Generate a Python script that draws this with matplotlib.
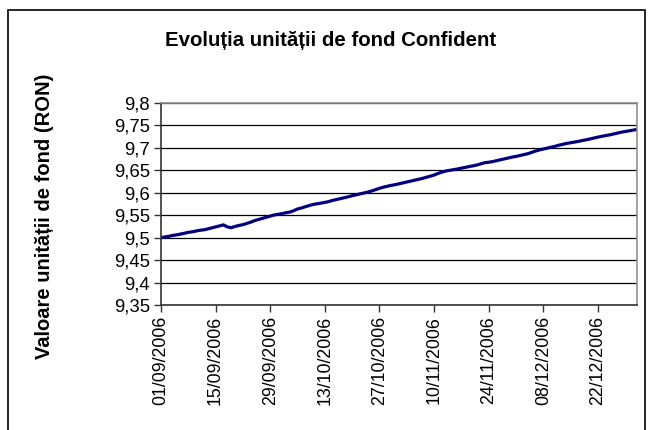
import matplotlib
matplotlib.use("Agg")
import matplotlib.pyplot as plt
from matplotlib.patches import Rectangle
import pandas as pd

plt.rcParams['font.family'] = ['Liberation Sans', 'DejaVu Sans']

title = "Evoluția unității de fond Confident"
ylabel = "Valoare unității de fond (RON)"

start_date = "2006-09-01"
values = [
    9.5000, 9.5016, 9.5030, 9.5050, 9.5062, 9.5080, 9.5098, 9.5118, 9.5130, 9.5148,
    9.5165, 9.5175, 9.5195, 9.5218, 9.5240, 9.5262, 9.5285, 9.5240, 9.5222, 9.5250,
    9.5272, 9.5290, 9.5318, 9.5345, 9.5380, 9.5405, 9.5430, 9.5455, 9.5480, 9.5505,
    9.5520, 9.5535, 9.5555, 9.5570, 9.5600, 9.5640, 9.5660, 9.5690, 9.5715, 9.5740,
    9.5755, 9.5770, 9.5785, 9.5805, 9.5830, 9.5850, 9.5870, 9.5890, 9.5910, 9.5935,
    9.5955, 9.5975, 9.5995, 9.6015, 9.6040, 9.6070, 9.6100, 9.6125, 9.6145, 9.6165,
    9.6180, 9.6200, 9.6220, 9.6240, 9.6260, 9.6280, 9.6300, 9.6320, 9.6345, 9.6370,
    9.6395, 9.6430, 9.6460, 9.6485, 9.6500, 9.6515, 9.6530, 9.6550, 9.6565, 9.6585,
    9.6600, 9.6620, 9.6645, 9.6670, 9.6680, 9.6695, 9.6715, 9.6735, 9.6755, 9.6775,
    9.6795, 9.6810, 9.6830, 9.6850, 9.6870, 9.6900, 9.6930, 9.6955, 9.6975, 9.6995,
    9.7015, 9.7035, 9.7060, 9.7080, 9.7100, 9.7115, 9.7130, 9.7145, 9.7165, 9.7180,
    9.7200, 9.7220, 9.7240, 9.7258, 9.7275, 9.7290, 9.7310, 9.7330, 9.7350, 9.7365,
    9.7380, 9.7395, 9.7410,
]
dates = pd.date_range(start_date, periods=len(values), freq="D")

tick_dates = pd.to_datetime([
    "2006-09-01", "2006-09-15", "2006-09-29", "2006-10-13", "2006-10-27",
    "2006-11-10", "2006-11-24", "2006-12-08", "2006-12-22",
])
yticks = [9.35, 9.4, 9.45, 9.5, 9.55, 9.6, 9.65, 9.7, 9.75, 9.8]
ytick_labels = ["9,35", "9,4", "9,45", "9,5", "9,55", "9,6", "9,65", "9,7", "9,75", "9,8"]

fig = plt.figure(figsize=(6.51, 4.30), dpi=100)
ax = fig.add_axes([161/651, 1-305/430, (637-161)/651, (305-103)/430])

ax.plot(dates, values, color="#000080", lw=2.3, solid_capstyle="round")

ax.set_xlim(dates[0], dates[-1])
ax.set_ylim(9.35, 9.8)
ax.set_yticks(yticks)
ax.set_yticklabels(ytick_labels, fontsize=13.3)
ax.set_xticks(tick_dates)
ax.set_xticklabels([d.strftime("%d/%m/%Y") for d in tick_dates], rotation=90, fontsize=12.8)
ax.tick_params(axis="both", direction="out", length=5, width=1, color="#333333", pad=3)

ax.grid(axis="y", color="#000000", lw=0.9)
ax.set_axisbelow(True)
for s in ["top", "right"]:
    ax.spines[s].set_color("#909090")
    ax.spines[s].set_linewidth(1.2)
for s in ["left", "bottom"]:
    ax.spines[s].set_color("#333333")
    ax.spines[s].set_linewidth(1.2)

fig.text(331/651, 1-41/430, title, ha="center", va="center", fontsize=14.7, fontweight="bold")
fig.text(45/651, 1-216/430, ylabel, ha="center", va="center", rotation=90, fontsize=14.5, fontweight="bold")

fig.patches.append(Rectangle((8/651, -0.05), (645-8)/651, 1.05-10/430,
                             transform=fig.transFigure, fill=False, ec="black", lw=1.2))

fig.savefig("out.png", dpi=100)
